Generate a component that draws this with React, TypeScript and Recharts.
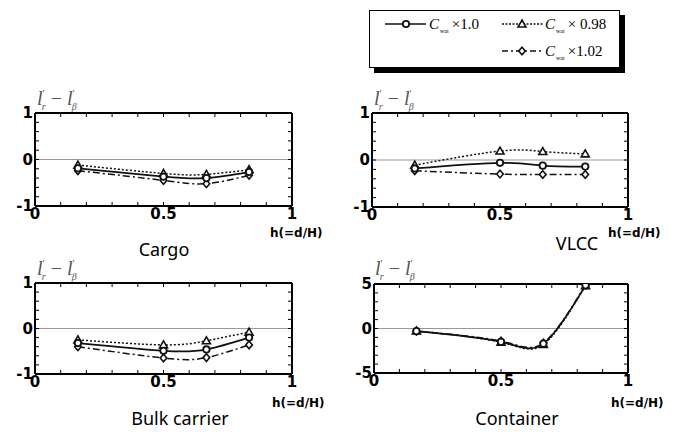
import React from "react";
import { LineChart, Line, XAxis, YAxis, ReferenceLine } from "recharts";

// depth ratio h = d/H at which the four ship models were tested
const hValues = [0.167, 0.5, 0.667, 0.833];

const cargoBase = [-0.19, -0.37, -0.4, -0.27];
const cargoLow = [-0.12, -0.3, -0.32, -0.22];
const cargoHigh = [-0.24, -0.45, -0.52, -0.34];

const vlccBase = [-0.18, -0.06, -0.12, -0.14];
const vlccLow = [-0.11, 0.19, 0.18, 0.13];
const vlccHigh = [-0.23, -0.3, -0.31, -0.31];

const bulkBase = [-0.32, -0.49, -0.46, -0.2];
const bulkLow = [-0.25, -0.36, -0.27, -0.08];
const bulkHigh = [-0.4, -0.65, -0.64, -0.36];

const contBase = [-0.3, -1.5, -1.7, 4.85];
const contLow = [-0.28, -1.55, -1.8, 4.8];
const contHigh = [-0.32, -1.42, -1.62, 4.9];

const xMajor = [0, 0.5, 1];
const xMinor = [0, 0.1, 0.2, 0.3, 0.4, 0.5, 0.6, 0.7, 0.8, 0.9, 1];
const unitMajor = [-1, 0, 1];
const unitMinor = [-1, -0.8, -0.6, -0.4, -0.2, 0, 0.2, 0.4, 0.6, 0.8, 1];
const fiveMajor = [-5, 0, 5];
const fiveMinor = [-5, -4, -3, -2, -1, 0, 1, 2, 3, 4, 5];

const legendFactors = ["\u00d71.0", "\u00d7 0.98", "\u00d71.02"];

const INK = "#111";
const numFont = { fontFamily: "'DejaVu Sans', sans-serif", fontWeight: 700, fontSize: 15, fill: "#000" };

const CircleMark = ({ cx, cy }: any) => (
  <circle cx={cx} cy={cy} r={3.2} fill="#fff" stroke={INK} strokeWidth={1.8} />
);
const TriangleMark = ({ cx, cy }: any) => (
  <path d={`M${cx},${cy - 4}L${cx + 4},${cy + 3}L${cx - 4},${cy + 3}Z`} fill="#fff" stroke={INK} strokeWidth={1.6} />
);
const DiamondMark = ({ cx, cy }: any) => (
  <path d={`M${cx},${cy - 3.8}L${cx + 3.3},${cy}L${cx},${cy + 3.8}L${cx - 3.3},${cy}Z`} fill="#fff" stroke={INK} strokeWidth={1.6} />
);

const noLabel = () => <g />;

interface Box { x0: number; x1: number; y0: number; y1: number }

interface PanelProps {
  box: Box;
  base: number[];
  low: number[];
  high: number[];
  major: number[];
  minor: number[];
  domain: [number, number];
}

const Panel = ({ box, base, low, high, major, minor, domain }: PanelProps) => {
  const data = hValues.map((h, i) => ({ h, base: base[i], low: low[i], high: high[i] }));
  const width = box.x1 - box.x0 + 45;
  const height = box.y1 - box.y0 + 37;
  const frame = { stroke: "#000", strokeWidth: 2 };
  const tickLine = { stroke: "#000", strokeWidth: 1 };
  return (
    <div style={{ position: "absolute", left: box.x0 - 35, top: box.y0 - 13 }}>
      <LineChart width={width} height={height} data={data} margin={{ top: 13, left: 5, right: 10, bottom: 4 }}>
        <XAxis xAxisId="main" dataKey="h" type="number" domain={[0, 1]} ticks={xMajor} interval={0} allowDataOverflow
          axisLine={false} tickLine={false} tickSize={0} tickMargin={2} height={20} tick={numFont} />
        <XAxis xAxisId="bm" dataKey="h" type="number" domain={[0, 1]} ticks={xMinor} interval={0} allowDataOverflow mirror
          axisLine={frame} tickLine={tickLine} tickSize={4} tick={noLabel} />
        <XAxis xAxisId="tm" dataKey="h" orientation="top" type="number" domain={[0, 1]} ticks={xMinor} interval={0}
          allowDataOverflow mirror axisLine={frame} tickLine={tickLine} tickSize={4} tick={noLabel} />
        <YAxis yAxisId="main" type="number" domain={domain} ticks={major} interval={0} allowDataOverflow
          axisLine={false} tickLine={false} tickSize={0} tickMargin={2} width={30} tick={numFont} />
        <YAxis yAxisId="lm" dataKey="base" type="number" domain={domain} ticks={minor} interval={0} allowDataOverflow
          mirror axisLine={frame} tickLine={tickLine} tickSize={4} tick={noLabel} />
        <YAxis yAxisId="rm" dataKey="base" orientation="right" type="number" domain={domain} ticks={minor} interval={0}
          allowDataOverflow mirror axisLine={frame} tickLine={tickLine} tickSize={4} tick={noLabel} />
        <ReferenceLine xAxisId="main" yAxisId="main" y={0} stroke="#999" strokeWidth={1} />
        <Line xAxisId="main" yAxisId="main" dataKey="low" type="natural" stroke={INK} strokeWidth={1.5}
          strokeDasharray="2 2" isAnimationActive={false}
          dot={(p: any) => <TriangleMark key={`t${p.index}`} cx={p.cx} cy={p.cy} />} />
        <Line xAxisId="main" yAxisId="main" dataKey="high" type="natural" stroke={INK} strokeWidth={1.5}
          strokeDasharray="7 3 2 3" isAnimationActive={false}
          dot={(p: any) => <DiamondMark key={`d${p.index}`} cx={p.cx} cy={p.cy} />} />
        <Line xAxisId="main" yAxisId="main" dataKey="base" type="natural" stroke={INK} strokeWidth={1.7}
          isAnimationActive={false}
          dot={(p: any) => <CircleMark key={`c${p.index}`} cx={p.cx} cy={p.cy} />} />
      </LineChart>
    </div>
  );
};

const YTitle = ({ left, top }: { left: number; top: number }) => (
  <div style={{ position: "absolute", left, top, fontFamily: "'Liberation Serif', 'Times New Roman', serif",
    fontSize: 20, color: "#555", lineHeight: 1, whiteSpace: "nowrap" }}>
    <i>l</i><sup style={{ fontSize: 10 }}>{"\u2032"}</sup><sub style={{ fontSize: 10, fontStyle: "italic", marginLeft: -3 }}>r</sub>
    {" \u2212 "}
    <i>l</i><sup style={{ fontSize: 10 }}>{"\u2032"}</sup><sub style={{ fontSize: 10, fontStyle: "italic", marginLeft: -3 }}>{"\u03b2"}</sub>
  </div>
);

const XTitle = ({ left, top }: { left: number; top: number }) => (
  <div style={{ position: "absolute", left, top, fontFamily: "'DejaVu Sans', sans-serif",
    fontWeight: 700, fontSize: 12, lineHeight: 1, whiteSpace: "nowrap" }}>h(=d/H)</div>
);

const Caption = ({ cx, top, text }: { cx: number; top: number; text: string }) => (
  <div style={{ position: "absolute", left: cx - 80, width: 160, top, textAlign: "center",
    fontFamily: "'Noto Sans', sans-serif", fontSize: 18, lineHeight: 1 }}>{text}</div>
);

const LegendLabel = ({ x, y, text }: { x: number; y: number; text: string }) => (
  <text x={x} y={y} fontFamily="'Liberation Serif', 'Times New Roman', serif" fontSize={15} fill="#000">
    <tspan fontStyle="italic">C</tspan>
    <tspan fontSize={6} dy={4} dx={1}>wat</tspan>
    <tspan dy={-4} dx={3}>{text}</tspan>
  </text>
);

const LegendBox = () => (
  <div style={{ position: "absolute", left: 369, top: 10, width: 249, height: 56, border: "1.5px solid #000",
    boxShadow: "5px 5px 0 #000", background: "#fff" }}>
    <svg width={249} height={56}>
      <line x1={15} x2={56} y1={13} y2={13} stroke={INK} strokeWidth={1.6} />
      <CircleMark cx={36} cy={13} />
      <LegendLabel x={59} y={18} text={legendFactors[0]} />
      <line x1={132} x2={173} y1={13} y2={13} stroke={INK} strokeWidth={1.5} strokeDasharray="2 1.5" />
      <TriangleMark cx={152} cy={13} />
      <LegendLabel x={175} y={18} text={legendFactors[1]} />
      <line x1={132} x2={173} y1={40} y2={40} stroke={INK} strokeWidth={1.5} strokeDasharray="6 3 2 3" />
      <DiamondMark cx={152} cy={40} />
      <LegendLabel x={175} y={45} text={legendFactors[2]} />
    </svg>
  </div>
);

export default function App() {
  return (
    <div style={{ position: "absolute", left: 0, top: 0, width: 682, height: 432, background: "#fff", overflow: "hidden" }}>
      <LegendBox />

      <YTitle left={37} top={88} />
      <Panel box={{ x0: 35, x1: 292, y0: 113, y1: 206 }} base={cargoBase} low={cargoLow} high={cargoHigh}
        major={unitMajor} minor={unitMinor} domain={[-1, 1]} />
      <XTitle left={270} top={227} />
      <Caption cx={164} top={240} text="Cargo" />

      <YTitle left={374} top={88} />
      <Panel box={{ x0: 372, x1: 628, y0: 113, y1: 207 }} base={vlccBase} low={vlccLow} high={vlccHigh}
        major={unitMajor} minor={unitMinor} domain={[-1, 1]} />
      <XTitle left={608} top={227} />
      <Caption cx={577} top={234} text="VLCC" />

      <YTitle left={37} top={258} />
      <Panel box={{ x0: 35, x1: 292, y0: 283, y1: 374 }} base={bulkBase} low={bulkLow} high={bulkHigh}
        major={unitMajor} minor={unitMinor} domain={[-1, 1]} />
      <XTitle left={272} top={397} />
      <Caption cx={180} top={409} text="Bulk carrier" />

      <YTitle left={375} top={258} />
      <Panel box={{ x0: 374, x1: 628, y0: 284, y1: 373 }} base={contBase} low={contLow} high={contHigh}
        major={fiveMajor} minor={fiveMinor} domain={[-5, 5]} />
      <XTitle left={611} top={397} />
      <Caption cx={517} top={409} text="Container" />
    </div>
  );
}
